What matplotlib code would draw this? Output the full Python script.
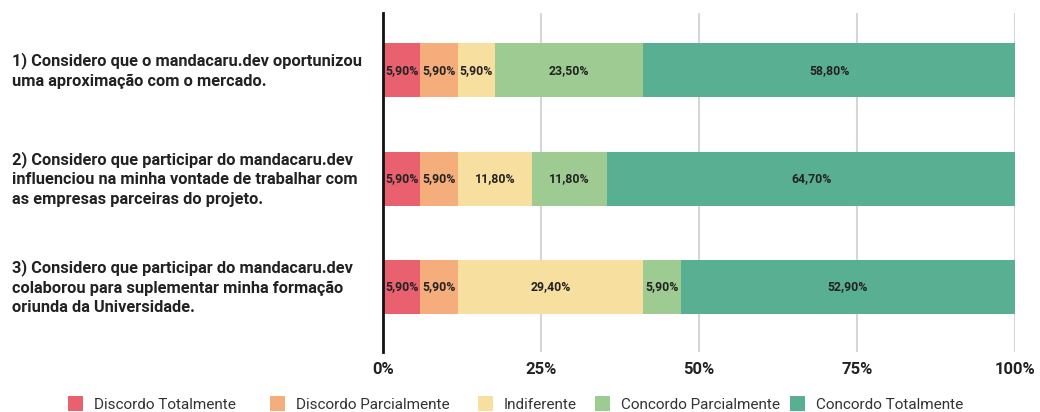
import matplotlib.pyplot as plt
import numpy as np

plt.rcParams['font.family'] = ['Roboto', 'DejaVu Sans']

questions = [
    "1) Considero que o mandacaru.dev oportunizou\numa aproximação com o mercado.",
    "2) Considero que participar do mandacaru.dev\ninfluenciou na minha vontade de trabalhar com\nas empresas parceiras do projeto.",
    "3) Considero que participar do mandacaru.dev\ncolaborou para suplementar minha formação\noriunda da Universidade.",
]
categories = ["Discordo Totalmente", "Discordo Parcialmente", "Indiferente",
              "Concordo Parcialmente", "Concordo Totalmente"]
discordo_total = [5.9, 5.9, 5.9]
discordo_parcial = [5.9, 5.9, 5.9]
indiferente = [5.9, 11.8, 29.4]
concordo_parcial = [23.5, 11.8, 5.9]
concordo_total = [58.8, 64.7, 52.9]
colors = ["#e9606f", "#f4ad7b", "#f7df9f", "#9dcb91", "#59af92"]
xticks = [0, 25, 50, 75, 100]
xtick_labels = ["0%", "25%", "50%", "75%", "100%"]

series = [discordo_total, discordo_parcial, indiferente, concordo_parcial, concordo_total]

fig = plt.figure(figsize=(10.4, 4.12), dpi=100)
ax = fig.add_axes([0.3683, 0.1456, 0.6077, 0.8228])

y = np.arange(len(questions))
left = np.zeros(len(questions))
handles = []
for vals, name, col in zip(series, categories, colors):
    vals = np.array(vals)
    bars = ax.barh(y, vals, left=left, height=0.5, color=col, label=name,
                   edgecolor="none", zorder=2)
    handles.append(bars)
    for b, v in zip(bars, vals):
        ax.text(b.get_x() + b.get_width() / 2, b.get_y() + b.get_height() / 2,
                f"{v:.2f}%".replace(".", ","), ha="center", va="center",
                fontsize=8.8, fontweight="bold", color="#222222", zorder=3)
    left += vals

ax.set_xlim(0, 100)
ax.set_ylim(2.6, -0.53)
ax.set_xticks(xticks)
ax.set_xticklabels(xtick_labels, fontsize=12, fontweight="bold", color="#222222")
ax.set_yticks(y)
ax.set_yticklabels(questions, fontsize=11.8, fontweight="bold", color="#222222",
                   linespacing=1.36)
for lbl in ax.get_yticklabels():
    lbl.set_horizontalalignment("left")
    lbl.set_verticalalignment("center")
ax.tick_params(axis="y", length=0, pad=267)
ax.tick_params(axis="x", length=0, pad=7)
ax.grid(axis="x", color="#d6d6d6", linewidth=1.5, zorder=0)
for s in ["top", "right", "bottom"]:
    ax.spines[s].set_visible(False)
ax.spines["left"].set_linewidth(2)
ax.spines["left"].set_color("#111111")
ax.spines["left"].set_zorder(4)

# legend entries placed one by one, spacing in the source is uneven
legend_x = [68, 270, 478, 595, 790]
for h, name, lx in zip(handles, categories, legend_x):
    leg = fig.legend([h], [name], loc="center left",
                     bbox_to_anchor=(lx / 1040, 0.02), frameon=False,
                     fontsize=11, handlelength=1.0, handleheight=1.1,
                     handletextpad=0.7, borderpad=0, borderaxespad=0)
    for t in leg.get_texts():
        t.set_color("#333333")

fig.savefig("out.png", dpi=100)
